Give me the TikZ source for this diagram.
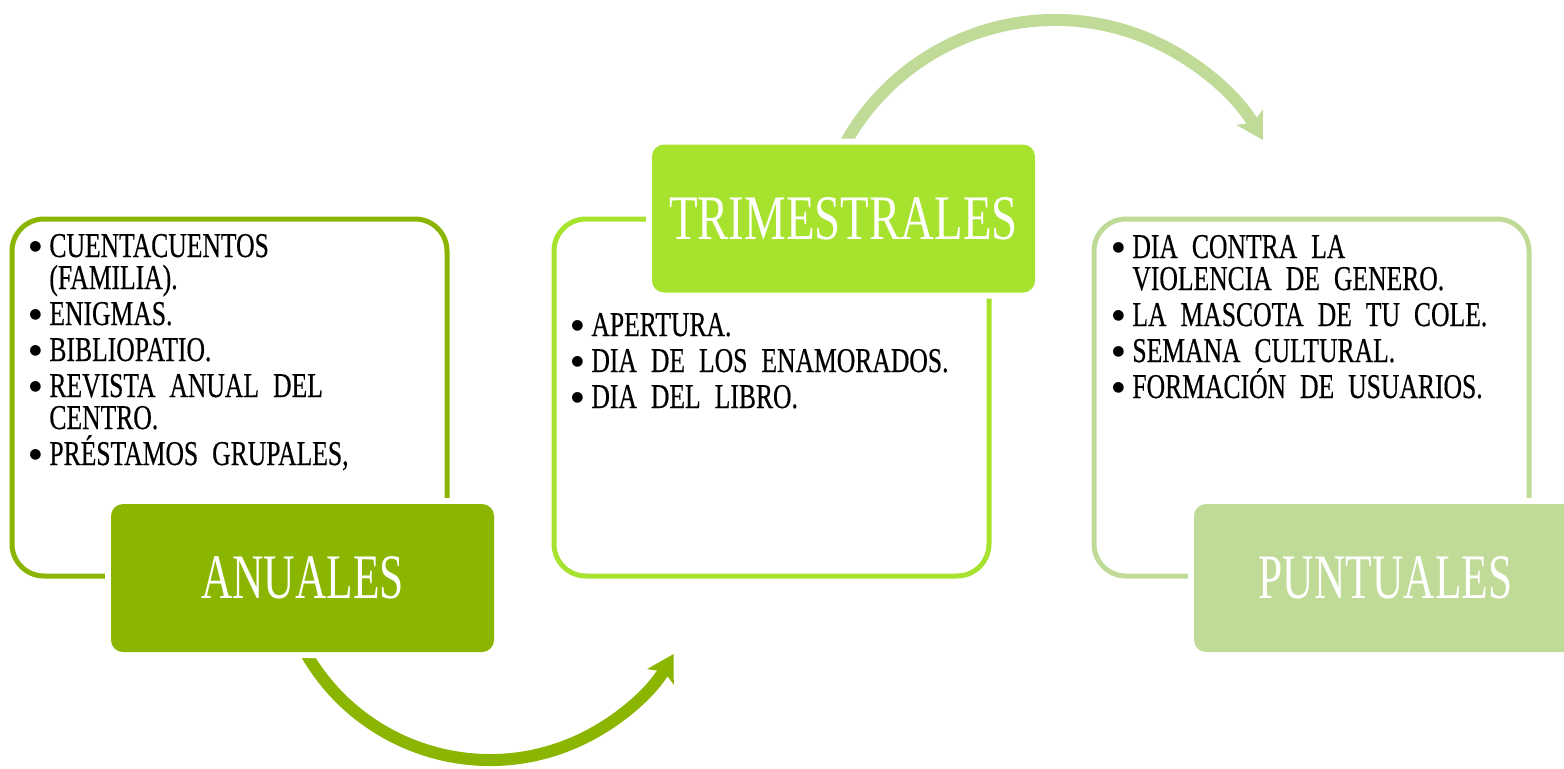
\documentclass[tikz,border=0pt]{standalone}
\usepackage{fontspec}
\setmainfont{Liberation Serif}
\newfontfamily\titlefont[FakeStretch=0.686]{Liberation Serif}
\newfontfamily\titlefontwide[FakeStretch=0.739]{Liberation Serif}
\newfontfamily\itemfont[FakeStretch=0.736,FakeBold=0.4]{Liberation Serif}
\newfontfamily\bulfont{DejaVu Sans}
\usetikzlibrary{arrows.meta}
\definecolor{cdark}{RGB}{138,181,0}
\definecolor{cmid}{RGB}{166,226,46}
\definecolor{clight}{RGB}{192,219,152}
\newcommand\mybul{\makebox[10pt][l]{\bulfont\fontsize{7}{7}\selectfont\raisebox{3.3pt}{●}}}
\newcommand\mycont{\hspace*{10pt}}
\newcommand\itemsetup{\itemfont\fontsize{17.4}{16}\selectfont\spaceskip=7pt\relax}
\newcommand\titlesetup{\titlefont\fontsize{31.7}{32}\selectfont}
\tikzset{
  outlinebox/.style={draw=#1, line width=2.5pt, rounded corners=16pt,
    minimum width=217.5pt, minimum height=178.5pt, inner sep=0pt},
  titlebox/.style={fill=#1, rounded corners=6pt, text=white,
    minimum width=191.5pt, minimum height=74pt, inner sep=0pt,
    preaction={draw=white, line width=6pt},
    font=\titlesetup},
  itemtext/.style={anchor=base west, inner sep=0pt, text=black,
    align=left, font=\itemsetup},
  cyclearrow/.style={draw=#1, line width=6pt,
    -{Stealth[length=13pt, width=15pt, inset=3pt]}}
}
\begin{document}
\begin{tikzpicture}[x=0.5pt, y=0.5pt]
\useasboundingbox (0,0) rectangle (1564,768);
\clip (0,0) rectangle (1564,768);
% outline boxes
\node[outlinebox=cdark]  (bl) at (229.5,370.5) {};
\node[outlinebox=cmid]   (bm) at (771.5,370.5) {};
\node[outlinebox=clight] (br) at (1311.5,370.5) {};
% arrows
\coordinate (c1) at (490,220);
\coordinate (c2) at (1055,508);
\draw[cyclearrow=cdark] ([shift={(205:106pt)}]c1) arc[start angle=205, end angle=330, radius=106pt];
\draw[cyclearrow=clight] ([shift={(155:120pt)}]c2) arc[start angle=155, end angle=30, radius=120pt];
% title boxes
\node[titlebox=cdark]  (ta) at (302.5,190) {ANUALES};
\node[titlebox=cmid]   (tt) at (843.5,549.5) {\titlefontwide TRIMESTRALES};
\node[titlebox=clight] (tp) at (1385.5,190) {PUNTUALES};
% item lists (base anchor = baseline of last line)
\node[itemtext] (la) at (29,303) {\mybul CUENTACUENTOS\\
  \mycont(FAMILIA).\\[2pt]
  \mybul ENIGMAS.\\[2pt]
  \mybul BIBLIOPATIO.\\[2pt]
  \mybul REVISTA ANUAL DEL\\
  \mycont CENTRO.\\[2pt]
  \mybul PRÉSTAMOS GRUPALES,};
\node[itemtext] (ma) at (571,360) {\mybul APERTURA.\\[2pt]
  \mybul DIA DE LOS ENAMORADOS.\\[2pt]
  \mybul DIA DEL LIBRO.};
\node[itemtext] (ra) at (1112,370) {\mybul DIA CONTRA LA\\
  \mycont VIOLENCIA DE GENERO.\\[2pt]
  \mybul LA MASCOTA DE TU COLE.\\[2pt]
  \mybul SEMANA CULTURAL.\\[2pt]
  \mybul FORMACIÓN DE USUARIOS.};
\end{tikzpicture}
\end{document}
